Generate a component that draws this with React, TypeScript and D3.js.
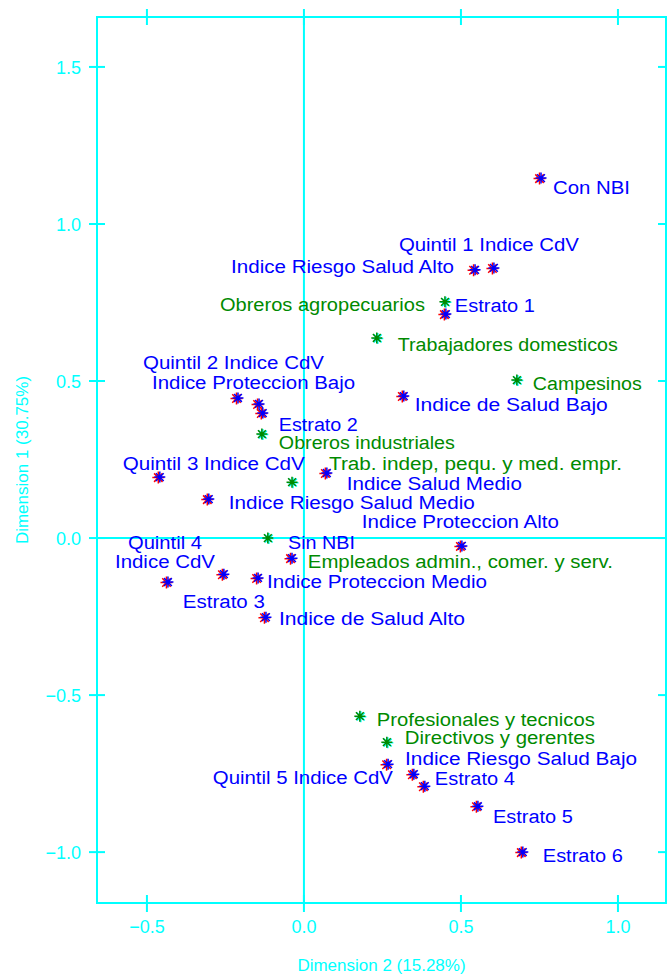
import { useMemo } from 'react'
import * as d3 from 'd3'

// row points (blue, with red projection)
const rowNames = [
  'Con NBI', 'Quintil 1 Indice CdV', 'Indice Riesgo Salud Alto', 'Estrato 1', 'Indice de Salud Bajo',
  'Quintil 2 Indice CdV', 'Indice Proteccion Bajo', 'Estrato 2', 'Quintil 3 Indice CdV', 'Indice Salud Medio',
  'Indice Riesgo Salud Medio', 'Indice Proteccion Alto', 'Sin NBI', 'Quintil 4\nIndice CdV', 'Estrato 3',
  'Indice Proteccion Medio', 'Indice de Salud Alto', 'Indice Riesgo Salud Bajo', 'Quintil 5 Indice CdV',
  'Estrato 4', 'Estrato 5', 'Estrato 6',
]
const rowDim2 = [
  0.755, 0.605, 0.545, 0.452, 0.318, -0.210, -0.143, -0.131, -0.459, 0.073, -0.303,
  0.503, -0.038, -0.433, -0.255, -0.146, -0.121, 0.268, 0.350, 0.385, 0.554, 0.697,
]
const rowDim1 = [
  1.146, 0.860, 0.854, 0.713, 0.452, 0.446, 0.427, 0.398, 0.194, 0.207, 0.124,
  -0.025, -0.064, -0.140, -0.115, -0.127, -0.252, -0.720, -0.752, -0.790, -0.854, -1.000,
]

// column points (green)
const colNames = [
  'Obreros agropecuarios', 'Trabajadores domesticos', 'Campesinos', 'Obreros industriales',
  'Trab. indep, pequ. y med. empr.', 'Empleados admin., comer. y serv.', 'Profesionales y tecnicos',
  'Directivos y gerentes',
]
const colDim2 = [0.449, 0.232, 0.678, -0.134, -0.038, -0.115, 0.178, 0.264]
const colDim1 = [0.752, 0.637, 0.503, 0.331, 0.178, 0.0, -0.567, -0.650]

const xTicks = [-0.5, 0, 0.5, 1.0]
const yTicks = [-1.0, -0.5, 0, 0.5, 1.0, 1.5]
const tickText = (v: number) => (v < 0 ? '\u2212' : '') + Math.abs(v).toFixed(1)

// label placement: [dx, dy, width] relative to the marker, px
const rowLabelPos: [number, number, number][] = [
  [12, 9, 77], [-95, -23, 180], [-244, -3, 223], [9, -9, 80], [11, 8, 193],
  [-95, -35, 181], [-107, -21, 203], [16, 11, 79], [-37, -14, 182], [20, 10, 175],
  [20, 3, 246], [-100, -24, 197], [-4, -16, 67], [-40, -40, 74], [-41, 27, 82],
  [9, 4, 220], [13, 1, 186], [17, -6, 232], [-201, 3, 180], [10, -8, 80], [15, 10, 80], [20, 3, 80],
]
const row2ndLine: Record<number, [number, number, number]> = { 13: [-53, -21, 100] }
const colLabelPos: [number, number, number][] = [
  [-225, 3, 205], [21, 7, 220], [16, 3, 109], [17, 8, 176], [37, -19, 293], [40, 23, 305], [17, 3, 218], [18, -5, 190],
]

const W = 667
const H = 974
const CYAN = '#00FFFF'
const BLUE = '#0000FF'
const RED = '#FF0000'
const GREEN = '#008A00'
const FONT = '"Liberation Sans", Arial, sans-serif'

const star = (r: number) => {
  const d = r * Math.SQRT1_2
  return `M${-r},0H${r}M0,${-r}V${r}M${-d},${-d}L${d},${d}M${-d},${d}L${d},${-d}`
}

export default function App() {
  const x = useMemo(() => d3.scaleLinear().domain([-0.659, 1.153]).range([97, 666]), [])
  const y = useMemo(() => d3.scaleLinear().domain([-1.162, 1.659]).range([903, 17]), [])
  const [x0, x1] = x.range()
  const [y0, y1] = y.range()
  const fs = 18

  const label = (text: string, px: number, py: number, w: number, color: string, key: string) => (
    <text key={key} x={px} y={py + 6.5} fill={color} fontSize={fs} fontFamily={FONT}
      textLength={w} lengthAdjust="spacingAndGlyphs">{text}</text>
  )

  return (
    <svg width={W} height={H} style={{ position: 'absolute', left: 0, top: 0, background: '#fff' }}>
      <g stroke={CYAN} strokeWidth={2} fill="none">
        <rect x={x0} y={y1} width={x1 - x0} height={y0 - y1} />
        <line x1={x0} x2={x1} y1={y(0)} y2={y(0)} />
        <line x1={x(0)} x2={x(0)} y1={y1} y2={y0} />
        {xTicks.map((t) => (
          <g key={'xt' + t}>
            <line x1={x(t)} x2={x(t)} y1={y0 - 8} y2={y0 + 9} />
            <line x1={x(t)} x2={x(t)} y1={y1 - 8} y2={y1 + 8} />
          </g>
        ))}
        {yTicks.map((t) => (
          <g key={'yt' + t}>
            <line x1={x0 - 8} x2={x0 + 8} y1={y(t)} y2={y(t)} />
            <line x1={x1 - 8} x2={x1 + 8} y1={y(t)} y2={y(t)} />
          </g>
        ))}
      </g>
      <g fill={CYAN} fontSize={18} fontFamily={FONT}>
        {xTicks.map((t) => (
          <text key={'xl' + t} x={x(t)} y={y0 + 30} textAnchor="middle">{tickText(t)}</text>
        ))}
        {yTicks.map((t) => (
          <text key={'yl' + t} x={81} y={y(t) + 7} textAnchor="end">{tickText(t)}</text>
        ))}
        <text x={(x0 + x1) / 2} y={971} textAnchor="middle" fontSize={17}>Dimension 2 (15.28%)</text>
        <text transform={`translate(28,${(y0 + y1) / 2}) rotate(-90)`} textAnchor="middle" fontSize={17}>
          Dimension 1 (30.75%)
        </text>
      </g>

      {/* column points */}
      <g strokeWidth={1.5} fill="none">
        {colNames.map((n, i) => (
          <g key={n} transform={`translate(${x(colDim2[i])},${y(colDim1[i])})`}>
            <path d={star(5.5)} stroke={CYAN} transform="translate(1,0.5)" />
            <path d={star(5.5)} stroke={GREEN} />
          </g>
        ))}
      </g>
      {/* row points */}
      <g strokeWidth={1.5} fill="none">
        {rowNames.map((n, i) => (
          <g key={n} transform={`translate(${x(rowDim2[i])},${y(rowDim1[i])})`}>
            <path d={star(6)} stroke={RED} transform="translate(-1.5,0.5)" />
            <path d={star(5.5)} stroke={BLUE} />
          </g>
        ))}
      </g>

      <g>
        {colNames.map((n, i) => {
          const [dx, dy, w] = colLabelPos[i]
          return label(n, x(colDim2[i]) + dx, y(colDim1[i]) + dy, w, GREEN, 'cl' + i)
        })}
        {rowNames.map((n, i) => {
          const px = x(rowDim2[i])
          const py = y(rowDim1[i])
          const [dx, dy, w] = rowLabelPos[i]
          const lines = n.split('\n')
          const out = [label(lines[0], px + dx, py + dy, w, BLUE, 'rl' + i)]
          if (lines[1] && row2ndLine[i]) {
            const [dx2, dy2, w2] = row2ndLine[i]
            out.push(label(lines[1], px + dx2, py + dy2, w2, BLUE, 'rl2' + i))
          }
          return out
        })}
      </g>
    </svg>
  )
}
